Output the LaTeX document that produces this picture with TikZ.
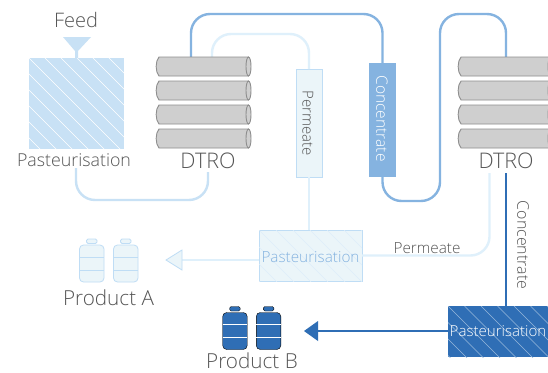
\documentclass[tikz,border=0pt]{standalone}
\usepackage{fontspec}
\setmainfont{Open Sans Light}[BoldFont={Open Sans}]
\usetikzlibrary{arrows.meta}
\definecolor{cdark}{HTML}{2F6EB5}
\definecolor{cmid}{HTML}{85B3E0}
\definecolor{clight}{HTML}{DFF0FB}
\definecolor{cpale}{HTML}{EBF5F9}
\definecolor{cedge}{HTML}{BFDDF5}
\definecolor{cbox}{HTML}{C8E1F5}
\definecolor{ctext}{HTML}{555555}
\definecolor{ctube}{HTML}{CFCFCF}
\definecolor{ctubeline}{HTML}{8E8E8E}
\tikzset{
  lab/.style={text=ctext,inner sep=0pt},
  tubeline/.style={draw=ctubeline,fill=ctube,line width=0.9pt},
  box/.style={rectangle,inner sep=0pt,outer sep=0pt},
  flowdark/.style={draw=cdark,line width=2.4pt},
  flowmid/.style={draw=cmid,line width=2.4pt,rounded corners=19pt},
  flowlight/.style={draw=clight,line width=2.4pt,rounded corners=19pt},
  flowbox/.style={draw=cbox,line width=2.4pt,rounded corners=19pt},
}
\newcommand{\hatchlines}[7]{% x1 y1 x2 y2 colour step width
  \begin{scope}
    \clip (#1,#2) rectangle (#3,#4);
    \foreach \k in {-8,...,12}{
      \draw[#5,line width=#7] ({#1+\k*#6},#2) -- ({#1+\k*#6+150},{#2+150});
    }
  \end{scope}}
\newcommand{\tubeat}[2]{% x ycentre
  \draw[tubeline] (#1+3,#2-9.5) -- (#1+92.5,#2-9.5) -- (#1+92.5,#2+9.5) -- (#1+3,#2+9.5)
    .. controls (#1-0.8,#2+5) and (#1-0.8,#2-5) .. cycle;
  \draw[tubeline] (#1+92.5,#2) ellipse [x radius=2.5,y radius=9.5];
}
\newcommand{\bottle}[5]{% x ytop bodystyle bandstyle capstyle
  \draw[#3,rounded corners=4pt] (#1,#2+6) rectangle (#1+24.5,#2+43);
  \draw[#5,rounded corners=1.5pt] (#1+7,#2) rectangle (#1+17.5,#2+4.5);
  \draw[#4] (#1,#2+18) -- (#1+24.5,#2+18) (#1,#2+31) -- (#1+24.5,#2+31);
}
\begin{document}
\begin{tikzpicture}[x=1pt,y=-1pt]
\useasboundingbox (0,0) rectangle (548,372);
\fill[white] (0,0) rectangle (548,372);
\begin{scope}
\clip (0,0) rectangle (548,372);
% anchors for connectors
\coordinate (outA) at (191,57);
\coordinate (permA) at (212,57);
\coordinate (outB) at (506,57);
\coordinate (permB) at (489.5,173);
\coordinate (concB) at (506,173);
\coordinate (pastOut) at (76,168);
\coordinate (dtroIn) at (208,172);
% boxes and connectors
\draw[flowbox] (pastOut) |- (132,200) -| (dtroIn);
\node[box,minimum width=103pt,minimum height=51pt,fill=cpale,draw=cedge,line width=0.8pt] (pastA) at (310.5,255.5) {};
\node[box,minimum width=26pt,minimum height=108pt,fill=cpale,draw=cedge,line width=0.8pt] (permBox) at (309,123) {};
\node[box,minimum width=27pt,minimum height=114pt,fill=cmid] (concBox) at (382.5,120) {};
\node[box,minimum width=100pt,minimum height=51pt,fill=cdark] (pastB) at (498,331.5) {};
\node[box,minimum width=95pt,minimum height=91pt,fill=cbox] (pastF) at (76.5,103.5) {};
\draw[flowlight] (permA) |- (260,34) -| (permBox.north);
\draw[flowlight] (permBox.south) -- (permBox.south |- pastA.north);
\draw[flowlight] (permB) |- (pastA.east);
\draw[flowmid] (outA) |- (290,14) -| (concBox.north);
\draw[flowmid] (concBox.south) |- (440,201) -- (440,14) -- (506,14) -- (outB);
\draw[flowdark] (concB) -- (concB |- pastB.north);
% hatching
\hatchlines{29}{58}{124}{149}{white}{16}{0.6pt}
\hatchlines{259}{230}{362}{281}{cbox!60}{17}{0.4pt}
\hatchlines{448}{306}{548}{357}{white!50!cdark}{16.5}{0.4pt}
% funnel
\fill[cbox] (63,37) -- (91,37) -- (78,51) -- (78,58) -- (75,58) -- (75,51) -- cycle;
% tubes
\foreach \y in {66.5,90.5,114.5,138.5}{
  \tubeat{156}{\y}
  \tubeat{458}{\y}
}
% outflow arrows
\coordinate (tipA) at (182,260);
\coordinate (tipB) at (318,331);
\draw[draw=clight,line width=2.4pt] (pastA.west |- tipA) -- (tipA);
\draw[flowdark] (pastB.west |- tipB) -- (tipB);
\fill[cpale,draw=cedge,line width=0.8pt] (tipA) ++(0,-10) -- ++(0,20) -- ++(-16,-10) -- cycle;
\fill[cdark] (tipB) ++(0,-10) -- ++(0,20) -- ++(-14,-10) -- cycle;
% bottles
\bottle{79.5}{239}{draw=cedge,line width=0.8pt,fill=cpale}{draw=cedge,line width=0.8pt}{draw=cedge,line width=0.8pt,fill=cpale}
\bottle{113.5}{239}{draw=cedge,line width=0.8pt,fill=cpale}{draw=cedge,line width=0.8pt}{draw=cedge,line width=0.8pt,fill=cpale}
\bottle{222.7}{306.5}{fill=cdark}{draw=white,line width=0.8pt}{fill=cdark}
\bottle{256.3}{306.5}{fill=cdark}{draw=white,line width=0.8pt}{fill=cdark}
% labels
\node[lab,font=\fontsize{20}{20}\selectfont] (feedL) at (76,20) {Feed};
\node[lab,font=\fontsize{17.8}{18}\selectfont] (pastFL) at (74,160) {Pasteurisation};
\node[lab,font=\fontsize{21.5}{21}\selectfont] (dtroAL) at (208,161) {DTRO};
\node[lab,font=\fontsize{21.5}{21}\selectfont] (dtroBL) at (506,161) {DTRO};
\node[lab,font=\fontsize{15}{15}\selectfont,rotate=-90] (permL) at (308,123) {Permeate};
\node[lab,font=\fontsize{15.6}{16}\selectfont,rotate=-90,text=white] (concL) at (382,118.5) {Concentrate};
\node[lab,font=\fontsize{15.3}{15}\selectfont,text=cmid] (pastAL) at (310.5,257) {Pasteurisation};
\node[lab,font=\fontsize{15.3}{15}\selectfont] (permL2) at (427,248.5) {Permeate};
\node[lab,font=\fontsize{16}{16}\selectfont,rotate=-90] (concL2) at (523,245) {Concentrate};
\node[lab,font=\fontsize{15.1}{15}\selectfont,text=white] (pastBL) at (498,331.5) {Pasteurisation};
\node[lab,font=\fontsize{20.7}{21}\selectfont] (prodA) at (108.5,298) {Product A};
\node[lab,font=\fontsize{20.7}{21}\selectfont] (prodB) at (252,361) {Product B};
\end{scope}
\end{tikzpicture}
\end{document}
